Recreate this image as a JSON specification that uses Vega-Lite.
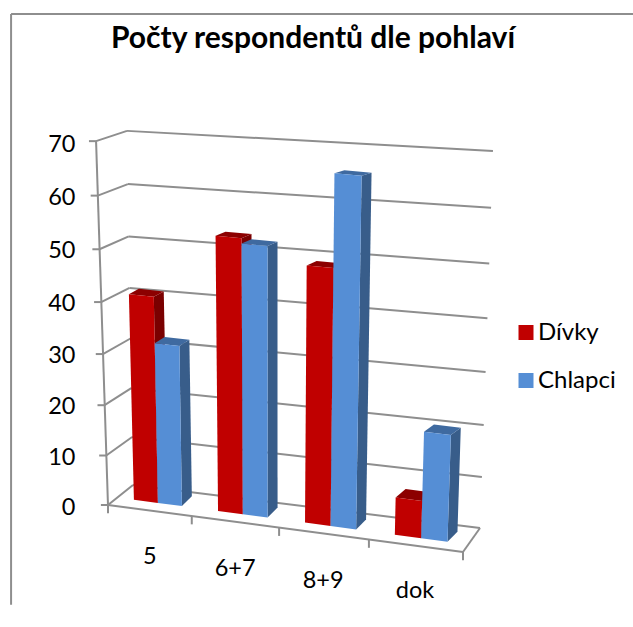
{
"$schema":"https://vega.github.io/schema/vega-lite/v6.json",
"width":633,"height":627,"padding":0,"autosize":"none","background":"white",
"config":{"view":{"stroke":null},"axis":{"grid":false}},
"datasets":{
"bars":[
{"cat":"5","series":"Dívky","value":40},{"cat":"5","series":"Chlapci","value":31},
{"cat":"6+7","series":"Dívky","value":53},{"cat":"6+7","series":"Chlapci","value":52},
{"cat":"8+9","series":"Dívky","value":49},{"cat":"8+9","series":"Chlapci","value":67},
{"cat":"dok","series":"Dívky","value":7},{"cat":"dok","series":"Chlapci","value":20}],
"ticks":[{"tick":0},{"tick":10},{"tick":20},{"tick":30},{"tick":40},{"tick":50},{"tick":60},{"tick":70}],
"xticks":[{"u":0},{"u":0.236},{"u":0.482},{"u":0.735},{"u":1}],
"cats":[{"cat":"5","u":0.118,"v":-10.1},{"cat":"6+7","u":0.358,"v":-12.4},{"cat":"8+9","u":0.606,"v":-14.7},{"cat":"dok","u":0.865,"v":-16.7}]
},
"layer":[
{"data":{"values":[{"a":-0.273,"b":1.4789,"v":94.97,"w":94.97},{"a":-0.273,"b":-0.273,"v":94.97,"w":-19.3}]},
 "mark":{"type":"rule","stroke":"#8e8e8e","strokeWidth":2},
 "encoding":{"x":{"field":"a","type":"quantitative","scale":{"domain":[-0.3042,1.4789],"nice":false,"zero":false},"axis":null},"x2":{"field":"b"},
 "y":{"field":"v","type":"quantitative","scale":{"domain":[-23.6,97.68],"nice":false,"zero":false},"axis":{"values":[-0.4,9.2,19.1,29,38.9,49.3,59.5,69.7],"labelExpr":"round(datum.value/10)*10","title":null,"domain":false,"ticks":false,"offset":-75,"labelPadding":0,"labelFont":"Lato","labelFontSize":23.5,"labelColor":"#000000"}},"y2":{"field":"w"}}},
{"data":{"values":[{"title":"Počty respondentů dle pohlaví","u":0.5775,"v":88.4}]},
 "mark":{"type":"text","font":"Lato","fontSize":30,"fontWeight":"bold","color":"#000000","baseline":"alphabetic","align":"center"},
 "encoding":{"x":{"field":"u","type":"quantitative"},"y":{"field":"v","type":"quantitative"},"text":{"field":"title"}}},
{"data":{"name":"ticks"},
 "transform":[{"calculate":"-0.00048*datum.tick","as":"fu"},{"calculate":"0.949*datum.tick+0.000806*datum.tick*datum.tick","as":"fv"},{"calculate":"0.0704-0.00024*datum.tick","as":"bu"},{"calculate":"3.87+0.919*datum.tick+0.00085*datum.tick*datum.tick","as":"bv"}],
 "mark":{"type":"rule","stroke":"#8e8e8e","strokeWidth":2},
 "encoding":{"x":{"field":"fu","type":"quantitative"},"x2":{"field":"bu"},"y":{"field":"fv","type":"quantitative"},"y2":{"field":"bv"}}},
{"data":{"name":"ticks"},
 "transform":[{"calculate":"0.0704-0.00024*datum.tick","as":"bu"},{"calculate":"3.87+0.919*datum.tick+0.00085*datum.tick*datum.tick","as":"bv"},{"calculate":"1.048+0.00052*datum.tick","as":"ru"},{"calculate":"-4.45+0.978*datum.tick+0.00091*datum.tick*datum.tick","as":"rv"}],
 "mark":{"type":"rule","stroke":"#8e8e8e","strokeWidth":2},
 "encoding":{"x":{"field":"bu","type":"quantitative"},"x2":{"field":"ru"},"y":{"field":"bv","type":"quantitative"},"y2":{"field":"rv"}}},
{"data":{"name":"ticks"},
 "transform":[{"calculate":"-0.00048*datum.tick","as":"fu"},{"calculate":"datum.fu-0.02","as":"su"},{"calculate":"0.949*datum.tick+0.000806*datum.tick*datum.tick","as":"fv"}],
 "mark":{"type":"rule","stroke":"#8e8e8e","strokeWidth":2},
 "encoding":{"x":{"field":"su","type":"quantitative"},"x2":{"field":"fu"},"y":{"field":"fv","type":"quantitative"}}},
{"data":{"values":[{"a":-0.0336,"b":0,"v":70.38,"w":0},{"a":0,"b":1,"v":0,"w":-9.09},{"a":1,"b":1.048,"v":-9.09,"w":-4.45}]},
 "mark":{"type":"rule","stroke":"#8e8e8e","strokeWidth":2},
 "encoding":{"x":{"field":"a","type":"quantitative"},"x2":{"field":"b"},"y":{"field":"v","type":"quantitative"},"y2":{"field":"w"}}},
{"data":{"name":"xticks"},
 "transform":[{"calculate":"-9.09*datum.u","as":"v"},{"calculate":"datum.v-1.6","as":"w"}],
 "mark":{"type":"rule","stroke":"#8e8e8e","strokeWidth":2},
 "encoding":{"x":{"field":"u","type":"quantitative"},"y":{"field":"v","type":"quantitative"},"y2":{"field":"w"}}},
{"data":{"name":"bars"},
 "transform":[
 {"calculate":"indexof(['5','6+7','8+9','dok'],datum.cat)","as":"ci"},
 {"calculate":"datum.series==='Dívky'?0:1","as":"si"},
 {"calculate":"0.0676+0.0022*datum.ci","as":"w"},
 {"calculate":"[0.073,0.31,0.555,0.808][datum.ci]+datum.si*datum.w","as":"ul"},
 {"calculate":"datum.ul+datum.w","as":"ur"},
 {"calculate":"1.7-9.2*datum.ul","as":"blv"},
 {"calculate":"1.7-9.2*datum.ur","as":"brv"},
 {"calculate":"datum.blv+datum.value*(0.99+0.045*datum.ul)","as":"tlv"},
 {"calculate":"datum.brv+datum.value*(0.99+0.045*datum.ur)","as":"trv"},
 {"calculate":"datum.ul+datum.value*(-0.00042+0.00093*datum.ul)","as":"tlu"},
 {"calculate":"datum.ur+datum.value*(-0.00042+0.00093*datum.ur)","as":"tru"},
 {"calculate":"(9-0.09*datum.value)/5.17","as":"dvt"},
 {"calculate":"[{f:' bok',i:0,x:datum.ur,y:datum.brv},{f:' bok',i:1,x:datum.ur+0.028,y:datum.brv+1.93},{f:' bok',i:2,x:datum.tru+0.028,y:datum.trv+datum.dvt},{f:' bok',i:3,x:datum.tru,y:datum.trv},{f:' vrch',i:4,x:datum.tlu,y:datum.tlv},{f:' vrch',i:5,x:datum.tlu+0.028,y:datum.tlv+datum.dvt},{f:' vrch',i:6,x:datum.tru+0.028,y:datum.trv+datum.dvt},{f:' vrch',i:7,x:datum.tru,y:datum.trv},{f:'',i:8,x:datum.ul,y:datum.blv},{f:'',i:9,x:datum.ur,y:datum.brv},{f:'',i:10,x:datum.tru,y:datum.trv},{f:'',i:11,x:datum.tlu,y:datum.tlv}]","as":"verts"},
 {"flatten":["verts"]},
 {"calculate":"datum.verts.x","as":"px"},
 {"calculate":"datum.verts.y","as":"py"},
 {"calculate":"datum.verts.i","as":"vi"},
 {"calculate":"datum.series+datum.verts.f","as":"face"},
 {"calculate":"datum.cat+'|'+datum.face","as":"pid"}
 ],
 "mark":{"type":"line","strokeWidth":0,"interpolate":"linear"},
 "encoding":{
 "x":{"field":"px","type":"quantitative"},
 "y":{"field":"py","type":"quantitative"},
 "detail":{"field":"pid"},
 "order":{"field":"vi"},
 "fill":{"field":"face","type":"nominal","scale":{"domain":["Dívky","Chlapci","Dívky bok","Dívky vrch","Chlapci bok","Chlapci vrch"],"range":["#c00000","#558ed5","#7a0000","#8c0000","#385d8a","#3f6aa0"]},
 "legend":{"values":["Dívky","Chlapci"],"title":null,"orient":"none","legendX":514,"legendY":320.5,"symbolType":"square","symbolSize":225,"symbolStrokeWidth":0,"labelFont":"Lato","labelFontSize":24,"labelColor":"#000000","rowPadding":24,"labelOffset":0}}}},
{"data":{"name":"cats"},
 "mark":{"type":"text","font":"Lato","fontSize":23.5,"color":"#000000"},
 "encoding":{"x":{"field":"u","type":"quantitative"},"y":{"field":"v","type":"quantitative"},"text":{"field":"cat"}}}
]
}
